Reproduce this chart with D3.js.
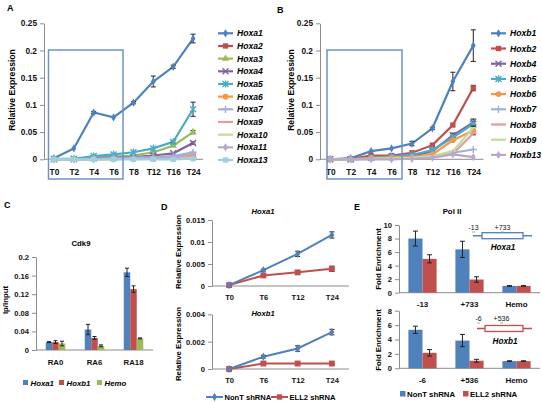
<!DOCTYPE html>
<html><head><meta charset="utf-8">
<script src="https://cdn.jsdelivr.net/npm/d3@7/dist/d3.min.js"></script>
<style>
html,body{margin:0;padding:0;background:#fff;}
svg{display:block;}
text{font-family:'Liberation Sans',Arial,sans-serif;}
</style></head>
<body>
<svg id="chart" width="542" height="402"></svg>
<script>
// ---------- DATA ----------
const timesAB = ["T0","T2","T4","T6","T8","T12","T16","T24"];
const hoxaGenes = ["Hoxa1","Hoxa2","Hoxa3","Hoxa4","Hoxa5","Hoxa6","Hoxa7","Hoxa9","Hoxa10","Hoxa11","Hoxa13"];
const hoxaValues = [
  [0.002,0.020,0.086,0.077,0.104,0.143,0.170,0.222],
  [0,0,0.001,0.001,0.002,0.002,0.003,0.008],
  [0,0.001,0.003,0.005,0.007,0.013,0.025,0.050],
  [0,0,0.002,0.003,0.004,0.007,0.011,0.030],
  [0.001,0.001,0.006,0.009,0.013,0.020,0.032,0.092],
  [0,0,0.001,0.001,0.001,0.002,0.003,0.009],
  [0,0,0.001,0.002,0.003,0.004,0.006,0.013],
  [0,0,0,0.001,0.001,0.001,0.002,0.004],
  [0,0,0,0,0.001,0.001,0.001,0.002],
  [0,0,0,0.001,0.001,0.002,0.003,0.011],
  [0,0,0,0,0,0,0,0.001]
];
const hoxaErrors = [
  [0,0,0.002,0,0.002,0.010,0.003,0.008],
  [0,0,0,0,0,0,0,0],
  [0,0,0,0,0,0,0,0.003],
  [0,0,0,0,0,0,0,0.002],
  [0,0,0,0,0,0,0.002,0.013],
  [0,0,0,0,0,0,0,0],[0,0,0,0,0,0,0,0],[0,0,0,0,0,0,0,0],
  [0,0,0,0,0,0,0,0],[0,0,0,0,0,0,0,0],[0,0,0,0,0,0,0,0]
];
const hoxbGenes = ["Hoxb1","Hoxb2","Hoxb4","Hoxb5","Hoxb6","Hoxb7","Hoxb8","Hoxb9","Hoxb13"];
const hoxbValues = [
  [0,0.002,0.015,0.020,0.029,0.057,0.143,0.209],
  [0,0.001,0.007,0.007,0.012,0.026,0.063,0.131],
  [0,0,0.003,0.004,0.006,0.015,0.044,0.068],
  [0,0,0.003,0.005,0.008,0.017,0.040,0.065],
  [0,0,0.002,0.003,0.004,0.009,0.035,0.053],
  [0,0,0.001,0.001,0.002,0.005,0.012,0.018],
  [0,0,0.001,0.001,0.002,0.004,0.010,0.048],
  [0,0,0.001,0.002,0.003,0.006,0.015,0.058],
  [0,0,0,0,0.001,0.003,0.009,0.004]
];
const hoxbErrors = [
  [0,0,0.001,0.001,0.004,0.002,0.017,0.029],
  [0,0,0,0,0,0,0,0.005],
  [0,0,0,0,0,0,0.004,0.006],
  [0,0,0,0,0,0,0,0.004],
  [0,0,0,0,0,0,0,0.008],
  [0,0,0,0,0,0,0,0],[0,0,0,0,0,0,0,0],[0,0,0,0,0,0,0,0],[0,0,0,0,0,0,0,0]
];
const ticksAB = [0,0.05,0.1,0.15,0.2,0.25];

const cdk9Conditions = ["RA0","RA6","RA18"];
const cdk9Genes = ["Hoxa1","Hoxb1","Hemo"];
const cdk9Values = [[0.017,0.017,0.014],[0.044,0.026,0.009],[0.167,0.131,0.025]];
const cdk9Errors = [[0.001,0.003,0.005],[0.011,0.003,0.002],[0.009,0.007,0.001]];
const ticksC = [0,0.04,0.08,0.12,0.16,0.2];

const timesD = ["T0","T6","T12","T24"];
const shGroups = ["NonT shRNA","ELL2 shRNA"];
const dHoxa1Values = [[0.0002,0.0036,0.0073,0.0116],[0.0002,0.0024,0.0031,0.0039]];
const dHoxa1Errors = [[0,0.0002,0.0006,0.0007],[0,0.0002,0.0003,0.0006]];
const dHoxb1Values = [[0,0.0009,0.0015,0.0027],[0,0.0004,0.0004,0.0004]];
const dHoxb1Errors = [[0,0.0001,0.0002,0.0002],[0,0.00005,0.00005,0.00005]];
const ticksDTop = [0,0.005,0.01,0.015];
const ticksDBot = [0,0.002,0.004];

const eTopSites = ["-13","+733","Hemo"];
const eTopValues = [[8.0,6.4,1.0],[5.0,1.95,1.0]];
const eTopErrors = [[1.1,1.2,0.05],[0.6,0.4,0.05]];
const eBotSites = ["-6","+536","Hemo"];
const eBotValues = [[5.35,3.85,1.0],[2.15,1.05,1.0]];
const eBotErrors = [[0.5,0.85,0.05],[0.45,0.2,0.05]];
const ticksETop = [0,2,4,6,8,10];
const ticksEBot = [0,2,4,6,8];

// ---------- STYLE ----------
const palette = ["#4F81BD","#C0504D","#9BBB59","#8064A2","#4BACC6","#F79646","#9DB1DB","#E0A09E","#C7DA9E","#B8A7CF","#9DD0E0"];
const markerA = ["diamond","square","triangle","x","star","circle","plus","dash","dash","diamond","square"];
const markerB = ["diamond","square","x","star","circle","plus","dash","dash","diamond"];
const colorB = ["#4F81BD","#C0504D","#8064A2","#4BACC6","#F79646","#9DB1DB","#E0A09E","#C7DA9E","#B8A7CF"];
const axisColor = "#8c8c8c";
const svg = d3.select("#chart");

function marker(g, type, color, r) {
  if (type === "diamond") g.append("path").attr("d", d3.symbol(d3.symbolDiamond, r*r*2.2)()).attr("fill", color);
  else if (type === "square") g.append("path").attr("d", d3.symbol(d3.symbolSquare, r*r*3.2)()).attr("fill", color);
  else if (type === "triangle") g.append("path").attr("d", d3.symbol(d3.symbolTriangle, r*r*2.6)()).attr("fill", color);
  else if (type === "circle") g.append("circle").attr("r", r*0.95).attr("fill", color);
  else {
    let d = "";
    if (type === "x" || type === "star") d += `M${-r},${-r}L${r},${r}M${-r},${r}L${r},${-r}`;
    if (type === "star") d += `M0,${-r*1.2}L0,${r*1.2}`;
    if (type === "plus") d += `M${-r*1.2},0L${r*1.2},0M0,${-r*1.2}L0,${r*1.2}`;
    if (type === "dash") d += `M${-r*1.2},0L${r*1.2},0`;
    g.append("path").attr("d", d).attr("fill", "none").attr("stroke", color).attr("stroke-width", 1.4);
  }
}

function styleAxis(g, fs) {
  g.selectAll(".domain").attr("stroke", axisColor);
  g.selectAll(".tick line").attr("stroke", axisColor);
  g.selectAll("text").attr("font-size", fs).attr("font-weight", "bold").attr("fill", "#111")
    .attr("font-family", "'Liberation Sans',Arial,sans-serif");
}
const fmt = d => d === 0 ? "0" : String(+d.toFixed(4));
function errPath(cx, y0, y1, cap) {
  return `M${cx},${y0}V${y1}M${cx-cap},${y0}H${cx+cap}M${cx-cap},${y1}H${cx+cap}`;
}

// ---------- LINE PANELS A,B ----------
function linePanel(cfg) {
  const x = d3.scalePoint().domain(timesAB).range([cfg.x0, cfg.x1]).padding(0.5);
  const y = d3.scaleLinear().domain([0, 0.25]).range([159.3, 23.3]);
  const gy = svg.append("g").attr("transform", `translate(${cfg.x0},0)`)
    .call(d3.axisLeft(y).tickValues(ticksAB).tickFormat(fmt).tickSize(4).tickSizeOuter(0).tickPadding(3));
  styleAxis(gy, 8.3);
  const gx = svg.append("g").attr("transform", `translate(0,159.3)`)
    .call(d3.axisBottom(x).tickSize(0).tickPadding(10));
  gx.select(".domain").attr("d", `M${cfg.x0},0H${cfg.x1}`);
  styleAxis(gx, 8.3);
  svg.append("text").attr("transform", `translate(${cfg.ylx},90) rotate(-90)`).attr("text-anchor","middle")
    .attr("font-size", 8.6).attr("font-weight","bold").text("Relative Expression");
  svg.append("text").attr("x", cfg.lx).attr("y", cfg.ly).attr("font-size", 9).attr("font-weight","bold").text(cfg.letter);
  const line = d3.line().x((d,i) => x(timesAB[i])).y(d => y(d));
  cfg.values.forEach((vals, s) => {
    const g = svg.append("g");
    g.append("path").attr("d", line(vals)).attr("fill","none").attr("stroke", cfg.colors[s]).attr("stroke-width", 2.2);
    vals.forEach((v, i) => {
      const e = cfg.errors[s][i];
      if (e > 0.0015) {
        g.append("path").attr("d", errPath(x(timesAB[i]), y(v-e), y(v+e), 2.5))
          .attr("stroke","#222").attr("stroke-width",1).attr("fill","none");
      }
      const m = g.append("g").attr("transform", `translate(${x(timesAB[i])},${y(v)})`);
      marker(m, cfg.markers[s], cfg.colors[s], 3);
    });
  });
  svg.append("rect").attr("x", cfg.bx0).attr("y", 50).attr("width", cfg.bx1 - cfg.bx0).attr("height", 129)
    .attr("fill","none").attr("stroke","#6F93C6").attr("stroke-width",1.5);
  cfg.genes.forEach((gname, s) => {
    const ly = 33.3 + s * cfg.lstep;
    svg.append("line").attr("x1", cfg.legx).attr("x2", cfg.legx + 15).attr("y1", ly).attr("y2", ly)
      .attr("stroke", cfg.colors[s]).attr("stroke-width", 2.2);
    const m = svg.append("g").attr("transform", `translate(${cfg.legx + 7.5},${ly})`);
    marker(m, cfg.markers[s], cfg.colors[s], 3);
    svg.append("text").attr("x", cfg.legx + 19).attr("y", ly + 3).attr("font-size", 8.6)
      .attr("font-weight","bold").attr("font-style","italic").text(gname);
  });
}
linePanel({x0:44, x1:203, ylx:15, lx:7, ly:11, letter:"A", values:hoxaValues, errors:hoxaErrors, colors:palette,
  markers:markerA, genes:hoxaGenes, bx0:48.5, bx1:123, legx:218, lstep:12.67});
linePanel({x0:320, x1:483.5, ylx:294, lx:277, ly:13, letter:"B", values:hoxbValues, errors:hoxbErrors, colors:colorB,
  markers:markerB, genes:hoxbGenes, bx0:327, bx1:402, legx:491, lstep:15.2});

// ---------- PANEL C ----------
(function(){
  const x = d3.scaleBand().domain(cdk9Conditions).range([36,153]).paddingInner(0.5).paddingOuter(0.25);
  const xi = d3.scaleBand().domain(cdk9Genes).range([0, x.bandwidth()]);
  const y = d3.scaleLinear().domain([0,0.2]).range([350,257]);
  const cols = ["#4F81BD","#C0504D","#9BBB59"];
  const gy = svg.append("g").attr("transform","translate(36,0)")
    .call(d3.axisLeft(y).tickValues(ticksC).tickFormat(fmt).tickSize(4).tickSizeOuter(0).tickPadding(3));
  styleAxis(gy, 7.6);
  const gx = svg.append("g").attr("transform","translate(0,350)").call(d3.axisBottom(x).tickSize(0).tickPadding(9));
  gx.select(".domain").attr("d","M36,0H153");
  styleAxis(gx, 7.8);
  cdk9Conditions.forEach((c, i) => {
    cdk9Genes.forEach((gn, j) => {
      const v = cdk9Values[i][j], e = cdk9Errors[i][j];
      const bx = x(c) + xi(gn);
      svg.append("rect").attr("x", bx).attr("y", y(v)).attr("width", xi.bandwidth()).attr("height", y(0)-y(v)).attr("fill", cols[j]);
      const cx = bx + xi.bandwidth()/2;
      svg.append("path").attr("d", errPath(cx, y(v-e), y(v+e), 2)).attr("stroke","#222").attr("stroke-width",1);
    });
  });
  svg.append("text").attr("x",81).attr("y",246).attr("text-anchor","middle").attr("font-size",7.8).attr("font-weight","bold").text("Cdk9");
  svg.append("text").attr("transform","translate(8,300) rotate(-90)").attr("text-anchor","middle").attr("font-size",7.8).attr("font-weight","bold").text("Ip/Input");
  svg.append("text").attr("x",4).attr("y",208).attr("font-size",9).attr("font-weight","bold").text("C");
  const lx = [23, 59, 97];
  cdk9Genes.forEach((gn, j) => {
    svg.append("rect").attr("x", lx[j]).attr("y", 380).attr("width",5).attr("height",5).attr("fill", cols[j]);
    svg.append("text").attr("x", lx[j]+7.5).attr("y", 385.5).attr("font-size",7.8).attr("font-weight","bold").attr("font-style","italic").text(gn);
  });
})();

// ---------- PANEL D ----------
function dPanel(vals, errs, ticks, yr, title, ty, ylabelY) {
  const x = d3.scalePoint().domain(timesD).range([212, 349]).padding(0.5);
  const y = d3.scaleLinear().domain([0, ticks[ticks.length-1]]).range(yr);
  const gy = svg.append("g").attr("transform","translate(212,0)")
    .call(d3.axisLeft(y).tickValues(ticks).tickFormat(fmt).tickSize(4).tickSizeOuter(0).tickPadding(3));
  styleAxis(gy, 7.6);
  const gx = svg.append("g").attr("transform",`translate(0,${yr[0]})`).call(d3.axisBottom(x).tickSize(0).tickPadding(9));
  gx.select(".domain").attr("d","M212,0H349");
  styleAxis(gx, 7.6);
  const cols = ["#4F81BD","#C0504D"], mk = ["diamond","square"];
  const line = d3.line().x((d,i)=>x(timesD[i])).y(d=>y(d));
  [1,0].forEach(s => {
    svg.append("path").attr("d", line(vals[s])).attr("fill","none").attr("stroke",cols[s]).attr("stroke-width",2);
  });
  [1,0].forEach(s => {
    vals[s].forEach((v,i) => {
      const e = errs[s][i], cx = x(timesD[i]);
      if (e > 0) svg.append("path").attr("d", errPath(cx, y(v-e), y(v+e), 2.5)).attr("stroke","#222").attr("stroke-width",1);
      const m = svg.append("g").attr("transform",`translate(${cx},${y(v)})`);
      marker(m, mk[s], cols[s], s===1 ? 3.3 : 3);
    });
  });
  svg.append("text").attr("x",263).attr("y",ty).attr("text-anchor","middle").attr("font-size",7.6)
    .attr("font-weight","bold").attr("font-style","italic").text(title);
  svg.append("text").attr("transform",`translate(181,${ylabelY}) rotate(-90)`).attr("text-anchor","middle")
    .attr("font-size",7.8).attr("font-weight","bold").text("Relative Expression");
}
dPanel(dHoxa1Values, dHoxa1Errors, ticksDTop, [286,220], "Hoxa1", 214, 252);
dPanel(dHoxb1Values, dHoxb1Errors, ticksDBot, [369,314.3], "Hoxb1", 316, 344);
svg.append("text").attr("x",161).attr("y",210).attr("font-size",9).attr("font-weight","bold").text("D");
(function(){
  const cols = ["#4F81BD","#C0504D"], mk = ["diamond","square"], lx = [206, 271];
  shGroups.forEach((gn, s) => {
    svg.append("line").attr("x1",lx[s]).attr("x2",lx[s]+17).attr("y1",397).attr("y2",397).attr("stroke",cols[s]).attr("stroke-width",2);
    const m = svg.append("g").attr("transform",`translate(${lx[s]+8.5},397)`);
    marker(m, mk[s], cols[s], 3);
    svg.append("text").attr("x",lx[s]+18.5).attr("y",400).attr("font-size",7.6).attr("font-weight","bold").text(gn);
  });
})();

// ---------- PANEL E ----------
function ePanel(sites, vals, errs, ticks, yr, labelY) {
  const x = d3.scaleBand().domain(sites).range([399,540]).paddingInner(0.4).paddingOuter(0.2);
  const xi = d3.scaleBand().domain([0,1]).range([0, x.bandwidth()]);
  const y = d3.scaleLinear().domain([0, ticks[ticks.length-1]]).range(yr);
  const gy = svg.append("g").attr("transform","translate(399,0)")
    .call(d3.axisLeft(y).tickValues(ticks).tickSize(4).tickSizeOuter(0).tickPadding(3));
  styleAxis(gy, 7.6);
  const gx = svg.append("g").attr("transform",`translate(0,${yr[0]})`).call(d3.axisBottom(x).tickSize(0).tickPadding(9));
  gx.select(".domain").attr("d","M399,0H540");
  styleAxis(gx, 8);
  const cols = ["#4F81BD","#C0504D"];
  sites.forEach((st, i) => {
    [0,1].forEach(s => {
      const v = vals[s][i], e = errs[s][i], bx = x(st) + xi(s);
      svg.append("rect").attr("x",bx).attr("y",y(v)).attr("width",xi.bandwidth()).attr("height",y(0)-y(v)).attr("fill",cols[s]);
      const cx = bx + xi.bandwidth()/2;
      svg.append("path").attr("d", errPath(cx, y(v-e), y(v+e), 2.5)).attr("stroke","#222").attr("stroke-width",1);
    });
  });
  svg.append("text").attr("transform",`translate(381,${labelY}) rotate(-90)`).attr("text-anchor","middle")
    .attr("font-size",7.8).attr("font-weight","bold").text("Fold Enrichment");
}
ePanel(eTopSites, eTopValues, eTopErrors, ticksETop, [292.7,225], 259);
ePanel(eBotSites, eBotValues, eBotErrors, ticksEBot, [368.3,310.7], 340);
svg.append("text").attr("x",354).attr("y",210).attr("font-size",9).attr("font-weight","bold").text("E");
svg.append("text").attr("x",452).attr("y",214).attr("text-anchor","middle").attr("font-size",7.8).attr("font-weight","bold").text("Pol II");

function geneDiagram(color, lineY, lx0, lx1, bx0, bx1, labels, labelXs, labelY, gname, gx, gy) {
  svg.append("line").attr("x1",lx0).attr("x2",lx1).attr("y1",lineY).attr("y2",lineY).attr("stroke",color).attr("stroke-width",1.5);
  svg.append("rect").attr("x",bx0).attr("y",lineY-3).attr("width",bx1-bx0).attr("height",6).attr("fill","#fff").attr("stroke",color).attr("stroke-width",1.3);
  labels.forEach((l,i) => {
    svg.append("text").attr("x",labelXs[i]).attr("y",labelY).attr("text-anchor","middle").attr("font-size",7).attr("fill","#111").text(l);
    svg.append("line").attr("x1",labelXs[i]-1.5).attr("x2",labelXs[i]+1.5).attr("y1",labelY+2).attr("y2",labelY+2).attr("stroke","#7a9cc9").attr("stroke-width",0.8);
  });
  svg.append("text").attr("x",gx).attr("y",gy).attr("text-anchor","middle").attr("font-size",8.2)
    .attr("font-weight","bold").attr("font-style","italic").text(gname);
}
geneDiagram("#4F81BD", 235.7, 473, 532, 482, 523, ["-13","+733"], [473.5,502.5], 230, "Hoxa1", 503, 249.5);
geneDiagram("#C0504D", 328.5, 477, 532, 485, 523, ["-6","+536"], [478.5,501.5], 321, "Hoxb1", 505, 344);

(function(){
  const cols = ["#4F81BD","#C0504D"], lx = [400, 463];
  shGroups.forEach((gn, s) => {
    svg.append("rect").attr("x",lx[s]).attr("y",391).attr("width",5.5).attr("height",5.5).attr("fill",cols[s]);
    svg.append("text").attr("x",lx[s]+7).attr("y",397).attr("font-size",7.8).attr("font-weight","bold").text(gn);
  });
})();
</script>
</body></html>
